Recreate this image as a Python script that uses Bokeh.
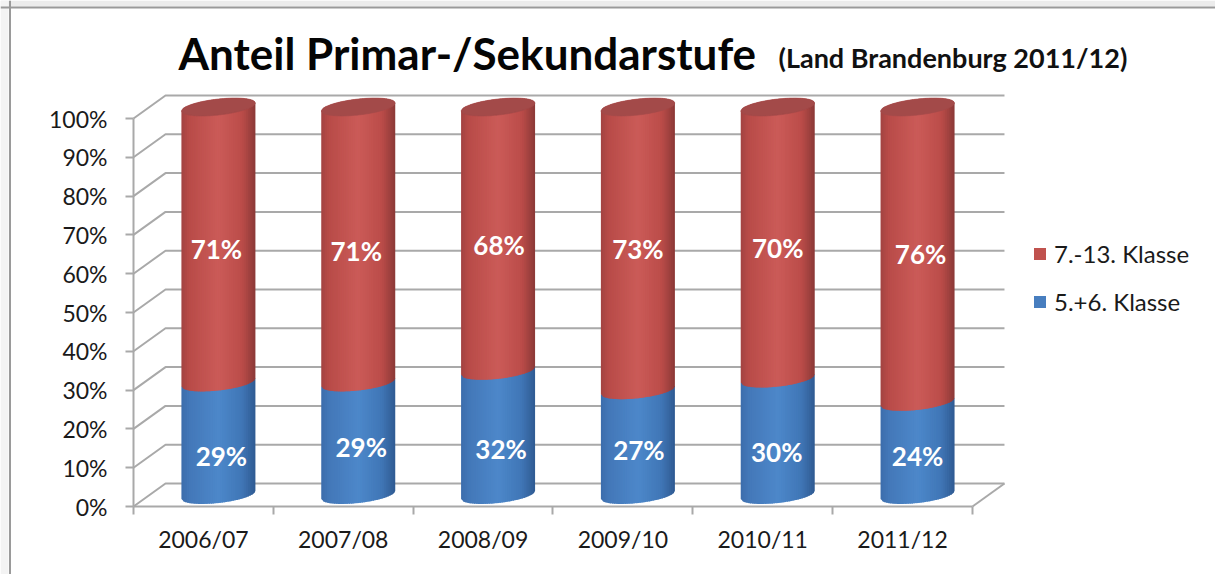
import numpy as np
from bokeh.core.properties import value
from bokeh.embed import file_html
from bokeh.models import (BoxAnnotation, ColumnDataSource, FixedTicker, Label, Legend, LegendItem,
                          LinearAxis, PrintfTickFormatter, Range1d, Span)
from bokeh.plotting import figure
from bokeh.resources import INLINE

# ---- chart data -------------------------------------------------------------
categories = ["2006/07", "2007/08", "2008/09", "2009/10", "2010/11", "2011/12"]
klasse_5_6 = [29, 29, 32, 27, 30, 24]
klasse_7_13 = [71, 71, 68, 73, 70, 76]
y_ticks = [0, 10, 20, 30, 40, 50, 60, 70, 80, 90, 100]
series_names = ["7.-13. Klasse", "5.+6. Klasse"]
title_main = "Anteil Primar-/Sekundarstufe"
title_sub = "(Land Brandenburg 2011/12)"

# ---- geometry (pixels in the picture) ------------------------------------------
ORG_X, ORG_Y = 133.0, 506.0      # front origin of the plot
CAT_PX, PCT_PX = 139.83, 3.88    # pixels per category / per percent
DEPTH_X, DEPTH_Y = 32.0, 23.0    # 3-D depth of the floor
BAR_W = 74.0
BAR_SHIFT = -1.0                 # px, bars sit slightly left of mid-depth
ELL_B, ELL_TILT = 8.0, 4.0
NSTRIP = 40
W, H = 1215, 574


def fx(px):
    return (px - ORG_X) / CAT_PX


def fy(py):
    return (ORG_Y - py) / PCT_PX


dx, dy = DEPTH_X / CAT_PX, DEPTH_Y / PCT_PX
bar_dx = dx / 2 + BAR_SHIFT / CAT_PX

# manual nudges of the data labels (px) as placed in the picture
red_label_dx = [-2, -2, 1, 0, 0, 3]
red_label_dy = [4, 6, 6, 0, 5, 0]
blue_label_dx = [3, 3, 3, 1, -1, 0]
blue_label_dy = [17, 8, 16, 7, 15, 8]

p = figure(width=W, height=H, output_backend="svg", toolbar_location=None,
           x_range=Range1d(fx(0), fx(W)), y_range=Range1d(fy(H), fy(0)),
           x_axis_location=None, y_axis_location=None,
           min_border_left=0, min_border_right=0, min_border_top=0, min_border_bottom=0,
           background_fill_color="white", border_fill_color="white")
p.outline_line_color = None
p.grid.visible = False

# picture frame: soft shadow and grey border along the top and left
p.add_layout(BoxAnnotation(left=fx(0), right=fx(W), top=fy(0), bottom=fy(6), fill_color="#ececec", fill_alpha=1,
                           line_color=None, level="underlay"))
p.add_layout(BoxAnnotation(left=fx(0), right=fx(8), top=fy(0), bottom=fy(H), fill_color="#f3f3f3", fill_alpha=1,
                           line_color=None, level="underlay"))
p.add_layout(Span(location=fy(7), dimension="width", line_color="#9a9a9a", line_width=2, level="underlay"))
p.add_layout(Span(location=fx(9.5), dimension="height", line_color="#9a9a9a", line_width=2, level="underlay"))

GRID = "#a9a9a9"
# back wall + side wall lines
for v in y_ticks:
    p.line([0, dx, dx + 6], [v, v + dy, v + dy], line_color=GRID, line_width=2, level="underlay")
p.line([6, 6 + dx], [0, dy], line_color=GRID, line_width=2, level="underlay")

# axes
xax = LinearAxis(bounds=(0, 6), fixed_location=0)
xax.ticker = FixedTicker(ticks=[i + 0.5 for i in range(6)], minor_ticks=list(range(7)))
xax.major_label_overrides = {i + 0.5: c for i, c in enumerate(categories)}
xax.major_tick_out = 0
xax.major_tick_in = 0
xax.minor_tick_out = 8
xax.minor_tick_in = 0
xax.minor_tick_line_color = GRID
xax.minor_tick_line_width = 2
xax.axis_line_color = GRID
xax.axis_line_width = 2
xax.major_label_standoff = 10
xax.major_label_text_font = "Lato"
xax.major_label_text_font_size = "23px"
xax.major_label_text_color = "#1a1a1a"
p.add_layout(xax, "below")

yax = LinearAxis(bounds=(0, 100), fixed_location=0)
yax.ticker = FixedTicker(ticks=y_ticks)
yax.formatter = PrintfTickFormatter(format="%d%%")
yax.major_tick_out = 8
yax.major_tick_in = 0
yax.major_tick_line_color = GRID
yax.major_tick_line_width = 2
yax.axis_line_color = GRID
yax.axis_line_width = 2
yax.major_label_standoff = 18
yax.major_label_text_font = "Lato"
yax.major_label_text_font_size = "23px"
yax.major_label_text_color = "#1a1a1a"
p.add_layout(yax, "left")


def shade(stops, t):
    ts = [s[0] for s in stops]
    rgb = [[int(s[1][i:i + 2], 16) for s in stops] for i in (1, 3, 5)]
    return "#%02x%02x%02x" % tuple(int(round(np.interp(t, ts, c))) for c in rgb)


RED = [(0, "#a24341"), (0.1, "#b84b48"), (0.5, "#cb5b58"), (0.82, "#bb4c49"), (1, "#8b3937")]
BLUE = [(0, "#3c6dab"), (0.1, "#4377b8"), (0.5, "#4d88ca"), (0.82, "#4076b6"), (1, "#2f5a92")]


def arc(u, sign):
    """Pixel offset (downwards) of the tilted ellipse at horizontal offset u.
    sign +1 = front edge, -1 = back edge, 0 = centre line."""
    h = BAR_W / 2
    return sign * ELL_B * np.sqrt(max(0.0, 1 - (u / h) ** 2)) - ELL_TILT * u / h


def strips(i, v0, v1, stops, upper_sign):
    cx = i + 0.5 + bar_dx
    xs, ys, cols = [], [], []
    edges = np.linspace(-BAR_W / 2, BAR_W / 2, NSTRIP + 1)
    for a, b in zip(edges[:-1], edges[1:]):
        b2 = min(b + 1.0, BAR_W / 2)  # overlap the next strip so no seam shows
        xs.append([cx + a / CAT_PX, cx + b2 / CAT_PX, cx + b2 / CAT_PX, cx + a / CAT_PX])
        ys.append([v0 + dy / 2 - arc(a, 1) / PCT_PX,
                   v0 + dy / 2 - arc(b2, 1) / PCT_PX,
                   v1 + dy / 2 - arc(b2, upper_sign) / PCT_PX,
                   v1 + dy / 2 - arc(a, upper_sign) / PCT_PX])
        cols.append(shade(stops, ((a + b) / 2 + BAR_W / 2) / BAR_W))
    return xs, ys, cols


X, Y, C = [], [], []
for i in range(6):
    b, r = klasse_5_6[i], klasse_7_13[i]
    for v0, v1, st, sign in ((0, b, BLUE, 0), (b, b + r, RED, -1)):
        xs, ys, cs = strips(i, v0, v1, st, sign)
        X += xs
        Y += ys
        C += cs
bars = p.patches("x", "y", source=ColumnDataSource(dict(x=X, y=Y, c=C)), fill_color="c", line_color=None)

# top ellipses
tx, ty = [], []
for i in range(6):
    cx = i + 0.5 + bar_dx
    us = np.linspace(-BAR_W / 2, BAR_W / 2, 61)
    tx.append(list(cx + us / CAT_PX) + list(cx + us[::-1] / CAT_PX))
    top = klasse_5_6[i] + klasse_7_13[i] + dy / 2
    ty.append([top - arc(u, 1) / PCT_PX for u in us] + [top - arc(u, -1) / PCT_PX for u in us[::-1]])
p.patches(tx, ty, fill_color="#a34a49", line_color="#a34a49", line_width=0.6)

# data labels
lx, ly, lt, lox, loy = [], [], [], [], []
for i in range(6):
    b, r = klasse_5_6[i], klasse_7_13[i]
    lx += [i + 0.5 + bar_dx] * 2
    ly += [b + r / 2 + dy / 2, b / 2 + dy / 2]
    lt += [f"{r}%", f"{b}%"]
    lox += [red_label_dx[i], blue_label_dx[i]]
    loy += [red_label_dy[i], blue_label_dy[i]]
p.text("x", "y", text="t", x_offset="ox", y_offset="oy",
       source=ColumnDataSource(dict(x=lx, y=ly, t=lt, ox=lox, oy=loy)),
       text_color="white", text_font=value("Lato"), text_font_style="bold", text_font_size="26px",
       text_align="center", text_baseline="middle")

# title
p.add_layout(Label(x=fx(178), y=fy(52), text=title_main, text_font="Lato", text_font_style="bold",
                   text_font_size="44px", text_color="#050505", text_baseline="middle"))
p.add_layout(Label(x=fx(778), y=fy(57), text=title_sub, text_font="Lato", text_font_style="bold",
                   text_font_size="27px", text_color="#111111", text_baseline="middle"))

# legend: swatches take the colour of one strip of each series
leg = Legend(items=[LegendItem(label=series_names[0], renderers=[bars], index=NSTRIP + 10),
                    LegendItem(label=series_names[1], renderers=[bars], index=10)],
             location=(1032, 574 - 316), orientation="vertical", background_fill_alpha=0,
             border_line_color=None, glyph_width=15, glyph_height=15, label_standoff=7, spacing=19,
             label_text_font="Lato", label_text_font_size="24px", label_text_color="#1a1a1a",
             padding=10, margin=0)
p.add_layout(leg, "center")

open("out.html", "w").write(file_html(p, INLINE))
